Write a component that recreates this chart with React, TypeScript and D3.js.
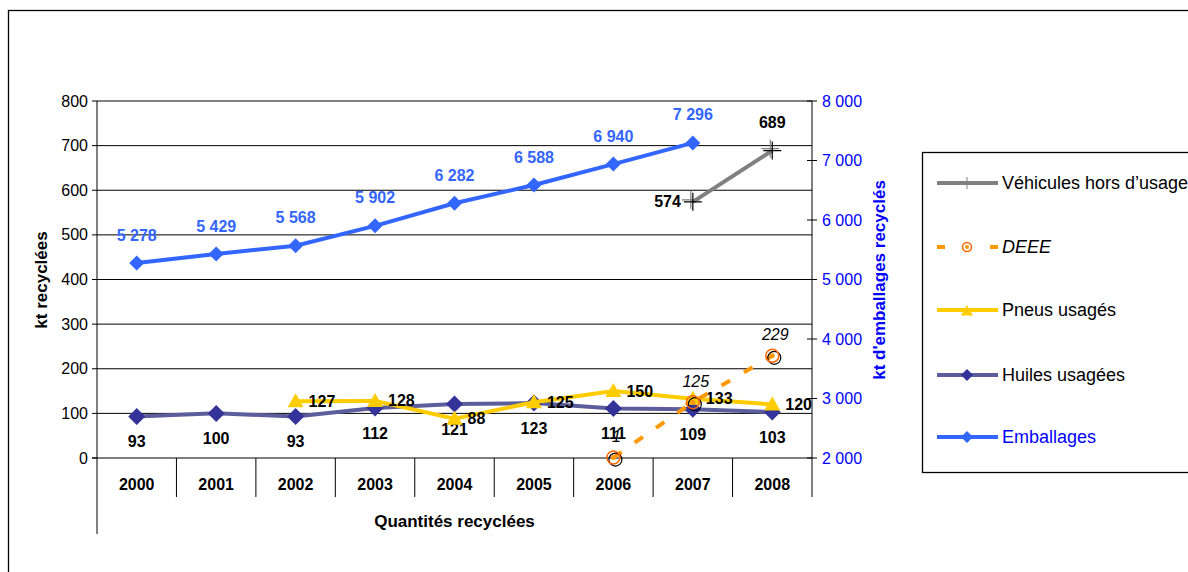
import React from "react";
import * as d3 from "d3";

const years = ["2000", "2001", "2002", "2003", "2004", "2005", "2006", "2007", "2008"];
const emballages: (number | null)[] = [5278, 5429, 5568, 5902, 6282, 6588, 6940, 7296, null];
const huiles: (number | null)[] = [93, 100, 93, 112, 121, 123, 111, 109, 103];
const pneus: (number | null)[] = [null, null, 127, 128, 88, 125, 150, 133, 120];
const vhu: (number | null)[] = [null, null, null, null, null, null, null, 574, 689];
const deee: (number | null)[] = [null, null, null, null, null, null, 1, 125, 229];
const leftTicks = [0, 100, 200, 300, 400, 500, 600, 700, 800];
const rightTicks = [2000, 3000, 4000, 5000, 6000, 7000, 8000];

const FONT = "Liberation Sans, Arial, sans-serif";
const fmt = (v: number) => d3.format(",")(v).replace(/,/g, " ");

export default function App() {
  const W = 1188, H = 572;
  const plotL = 97, plotR = 812, plotT = 101, plotB = 458;
  const x = d3.scaleBand<string>().domain(years).range([plotL, plotR]);
  const cx = (i: number) => (x(years[i]) as number) + x.bandwidth() / 2;
  const yL = d3.scaleLinear().domain([0, 800]).range([plotB, plotT]);
  const yR = d3.scaleLinear().domain([2000, 8000]).range([plotB, plotT]);

  const mkLine = (vals: (number | null)[], y: d3.ScaleLinear<number, number>) =>
    d3.line<number | null>()
      .defined((d) => d !== null)
      .x((_, i) => cx(i))
      .y((d) => y(d as number))(vals) || "";

  const diamond = (px: number, py: number, r: number, fill: string, key: string) => (
    <path key={key} d={`M${px},${py - r}L${px + r},${py}L${px},${py + r}L${px - r},${py}Z`} fill={fill} />
  );
  const triangle = (px: number, py: number, r: number, fill: string, key: string) => (
    <path key={key} d={`M${px},${py - r}L${px + r},${py + r * 0.75}L${px - r},${py + r * 0.75}Z`} fill={fill} />
  );

  const labelStyle = { fontFamily: FONT, fontSize: 16, fontWeight: 700 } as const;
  const titleStyle = { fontFamily: FONT, fontSize: 17, fontWeight: 700 } as const;

  const legendItems = [
    { name: "Véhicules hors d’usage", kind: "vhu" },
    { name: "DEEE", kind: "deee" },
    { name: "Pneus usagés", kind: "pneus" },
    { name: "Huiles usagées", kind: "huiles" },
    { name: "Emballages", kind: "emb" },
  ];
  const legendY = [183, 247, 310, 375, 437];

  return (
    <svg width={W} height={H} style={{ position: "absolute", left: 0, top: 0 }}>
      <rect x={0} y={0} width={W} height={H} fill="#fff" />
      <rect x={8.5} y={10.5} width={W} height={H} fill="none" stroke="#000" strokeWidth={1.3} />

      {leftTicks.filter((t) => t > 0).map((t) => (
        <line key={"g" + t} x1={plotL} x2={plotR} y1={yL(t)} y2={yL(t)} stroke="#000" strokeWidth={1} />
      ))}
      <line x1={plotL} x2={plotL} y1={plotT} y2={534} stroke="#000" strokeWidth={1} />
      {leftTicks.map((t) => (
        <g key={"lt" + t}>
          <line x1={plotL - 5} x2={plotL} y1={yL(t)} y2={yL(t)} stroke="#000" />
          <text x={plotL - 9} y={yL(t)} dy="0.35em" textAnchor="end" fontFamily={FONT} fontSize={16} fill="#000">{t}</text>
        </g>
      ))}
      <text transform={`translate(47,280) rotate(-90)`} textAnchor="middle" {...titleStyle} fill="#000">kt recyclées</text>

      <line x1={plotR} x2={plotR} y1={plotT} y2={plotB} stroke="#000" strokeWidth={1} />
      {rightTicks.map((t) => (
        <g key={"rt" + t}>
          <line x1={plotR - 5} x2={plotR + 5} y1={yR(t)} y2={yR(t)} stroke="#000" />
          <text x={plotR + 10} y={yR(t)} dy="0.35em" textAnchor="start" fontFamily={FONT} fontSize={16} fill="#0000FF">{fmt(t)}</text>
        </g>
      ))}
      <text transform={`translate(885,280) rotate(-90)`} textAnchor="middle" {...titleStyle} fill="#0000FF">kt d'emballages recyclés</text>

      <line x1={plotL - 5} x2={plotR} y1={plotB} y2={plotB} stroke="#000" strokeWidth={1} />
      {years.map((yr, i) => (
        <g key={"x" + yr}>
          {i > 0 && <line x1={x(yr)} x2={x(yr)} y1={plotB} y2={497} stroke="#000" />}
          <text x={cx(i)} y={484} dy="0.35em" textAnchor="middle" {...labelStyle} fill="#000">{yr}</text>
        </g>
      ))}
      <line x1={plotR} x2={plotR} y1={plotB} y2={497} stroke="#000" />
      <text x={(plotL + plotR) / 2} y={521} dy="0.35em" textAnchor="middle" {...titleStyle} fill="#000">Quantités recyclées</text>

      <path d={mkLine(emballages, yR)} fill="none" stroke="#3366FF" strokeWidth={4} />
      {emballages.map((v, i) => v === null ? null : (
        <g key={"e" + i}>
          {diamond(cx(i), yR(v), 7.5, "#3366FF", "ed" + i)}
          <text x={cx(i)} y={yR(v) - 28} dy="0.35em" textAnchor="middle" {...labelStyle} fill="#3366FF">{fmt(v)}</text>
        </g>
      ))}

      <path d={mkLine(huiles, yL)} fill="none" stroke="#5C5E9C" strokeWidth={4} />
      {huiles.map((v, i) => v === null ? null : (
        <g key={"h" + i}>
          {diamond(cx(i), yL(v), 8.5, "#333399", "hd" + i)}
          <text x={cx(i)} y={yL(v) + 25} dy="0.35em" textAnchor="middle" {...labelStyle} fill="#000">{v}</text>
        </g>
      ))}

      <path d={mkLine(pneus, yL)} fill="none" stroke="#FFCC00" strokeWidth={4} />
      {pneus.map((v, i) => v === null ? null : (
        <g key={"p" + i}>
          {triangle(cx(i), yL(v), 8, "#FFCC00", "pt" + i)}
          <text x={cx(i) + 13} y={yL(v)} dy="0.35em" textAnchor="start" {...labelStyle} fill="#000">{v}</text>
        </g>
      ))}

      <path d={mkLine(vhu, yL)} fill="none" stroke="#808080" strokeWidth={4} />
      {vhu.map((v, i) => v === null ? null : (
        <g key={"v" + i}>
          <path d={`M${cx(i) - 9},${yL(v)}H${cx(i) + 9}M${cx(i)},${yL(v) - 9}V${yL(v) + 9}`} stroke="#808080" strokeWidth={1.2} transform="translate(-2,-2)" />
          <path d={`M${cx(i) - 9},${yL(v)}H${cx(i) + 9}M${cx(i)},${yL(v) - 9}V${yL(v) + 9}`} stroke="#000" strokeWidth={1.2} />
          {i === 7 ? (
            <text x={cx(i) - 12} y={yL(v)} dy="0.35em" textAnchor="end" {...labelStyle} fill="#000">{v}</text>
          ) : (
            <text x={cx(i)} y={yL(v) - 28} dy="0.35em" textAnchor="middle" {...labelStyle} fill="#000">{v}</text>
          )}
        </g>
      ))}

      <path d={mkLine(deee, yL)} fill="none" stroke="#FF9900" strokeWidth={4} strokeDasharray="10 16" />
      {deee.map((v, i) => v === null ? null : (
        <g key={"d" + i}>
          <circle cx={cx(i) + 2} cy={yL(v) + 2} r={6.5} fill="none" stroke="#000" strokeWidth={1.2} />
          <circle cx={cx(i)} cy={yL(v)} r={6.5} fill="none" stroke="#FF6600" strokeWidth={1.5} />
          <circle cx={cx(i)} cy={yL(v)} r={2.5} fill="#FF9900" />
          <text x={cx(i) + 3} y={yL(v) - 21} dy="0.35em" textAnchor="middle" fontFamily={FONT} fontSize={16} fontStyle="italic" fill="#000">{v}</text>
        </g>
      ))}

      <rect x={922.5} y={152.5} width={300} height={320} fill="#fff" stroke="#000" strokeWidth={1.3} />
      {legendItems.map((it, k) => {
        const ly = legendY[k];
        const mx = 967;
        let sym: React.ReactNode = null;
        if (it.kind === "vhu") {
          sym = (
            <g>
              <line x1={937} x2={998} y1={ly} y2={ly} stroke="#808080" strokeWidth={4} />
              <line x1={mx} x2={mx} y1={ly - 6} y2={ly + 6} stroke="#808080" strokeWidth={1} />
            </g>
          );
        } else if (it.kind === "deee") {
          sym = (
            <g>
              <line x1={937} x2={945} y1={ly} y2={ly} stroke="#FF9900" strokeWidth={4} />
              <line x1={990} x2={998} y1={ly} y2={ly} stroke="#FF9900" strokeWidth={4} />
              <circle cx={mx} cy={ly} r={4.5} fill="none" stroke="#FF6600" strokeWidth={1.5} />
              <circle cx={mx} cy={ly} r={2} fill="#FF9900" />
            </g>
          );
        } else if (it.kind === "pneus") {
          sym = (
            <g>
              <line x1={937} x2={998} y1={ly} y2={ly} stroke="#FFCC00" strokeWidth={4} />
              {triangle(mx, ly + 1, 6, "#FFCC00", "lt")}
            </g>
          );
        } else if (it.kind === "huiles") {
          sym = (
            <g>
              <line x1={937} x2={998} y1={ly} y2={ly} stroke="#5C5E9C" strokeWidth={4} />
              {diamond(mx, ly, 6, "#333399", "lh")}
            </g>
          );
        } else {
          sym = (
            <g>
              <line x1={937} x2={998} y1={ly} y2={ly} stroke="#3366FF" strokeWidth={4} />
              {diamond(mx, ly, 6, "#3366FF", "le")}
            </g>
          );
        }
        return (
          <g key={"l" + k}>
            {sym}
            <text x={1002} y={ly} dy="0.35em" fontFamily={FONT} fontSize={18}
              fontStyle={it.kind === "deee" ? "italic" : "normal"}
              fill={it.kind === "emb" ? "#0000FF" : "#000"}>{it.name}</text>
          </g>
        );
      })}
    </svg>
  );
}
